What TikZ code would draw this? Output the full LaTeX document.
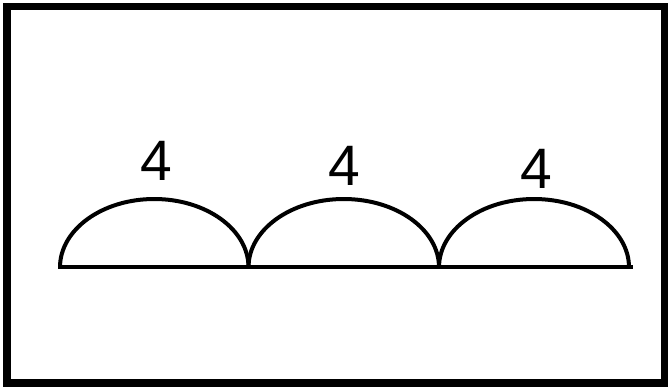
\documentclass[tikz,border=0pt]{standalone}
\usepackage{fontspec}
\setmainfont{Liberation Sans}
\begin{document}
\begin{tikzpicture}[x=1pt,y=1pt,
  frame/.style={draw=black,line width=7.5pt},
  baseln/.style={draw=black,line width=4pt},
  hump/.style={draw=black,line width=4pt},
  lab/.style={anchor=base,inner sep=0pt,font=\fontsize{57}{60}\selectfont}]
\useasboundingbox (0,0) rectangle (668,389);
\draw[frame] (7,6) rectangle (664.5,382.5);
\coordinate (L) at (58,121.7);
\coordinate (R) at (633,121.7);
\coordinate (p0) at (60,121.7);
\coordinate (p1) at (248.5,121.7);
\coordinate (p2) at (439,121.7);
\coordinate (p3) at (629,121.7);
\draw[baseln] (L) -- (R);
\draw[hump] (p0) arc[start angle=180,end angle=0,x radius=94.25,y radius=68.3];
\draw[hump] (p1) arc[start angle=180,end angle=0,x radius=95.25,y radius=68.3];
\draw[hump] (p2) arc[start angle=180,end angle=0,x radius=95,y radius=68.3];
\node[lab] (a) at (156,208.5) {4};
\node[lab] (b) at (344,203.5) {4};
\node[lab] (c) at (536,200.5) {4};
\end{tikzpicture}
\end{document}
